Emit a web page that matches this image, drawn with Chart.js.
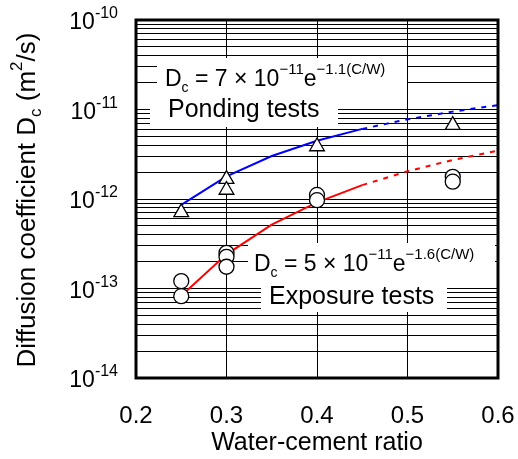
<!DOCTYPE html>
<html>
<head>
<meta charset="utf-8">
<script src="https://cdn.jsdelivr.net/npm/chart.js@4/dist/chart.umd.min.js"></script>
<style>body{margin:0;background:#fff}</style>
</head>
<body>
<canvas id="grafico" width="518" height="459"></canvas>
<script>
// valori
var xTicks = [0.2, 0.3, 0.4, 0.5, 0.6];
var yExps = [-14, -13, -12, -11, -10];

// ponding tests (triangoli)
var pondingX = [0.25, 0.3, 0.3, 0.4, 0.55];
var pondingY = [7.1e-13, 1.67e-12, 1.26e-12, 3.86e-12, 6.7e-12];

// exposure tests (cerchi)
var exposureX = [0.25, 0.25, 0.3, 0.3, 0.3, 0.4, 0.4, 0.55, 0.55];
var exposureY = [1.21e-13, 8.2e-14, 2.5e-13, 2.26e-13, 1.75e-13, 1.11e-12, 9.7e-13, 1.77e-12, 1.56e-12];

// curve (tratto continuo + prolungamento tratteggiato)
var curveX = [0.25, 0.3, 0.35, 0.4, 0.45];
var pondingCurve = [8.6e-13, 1.79e-12, 3.02e-12, 4.47e-12, 6.07e-12];
var exposureCurve = [8.3e-14, 2.41e-13, 5.17e-13, 9.16e-13, 1.43e-12];
var extX = [0.45, 0.5, 0.55, 0.6];
var pondingExt = [6.07e-12, 7.76e-12, 9.47e-12, 1.12e-11];
var exposureExt = [1.43e-12, 2.04e-12, 2.73e-12, 3.47e-12];

var FONT = 'Arial, "Liberation Sans", sans-serif';

function punti(xs, ys) {
    return xs.map(function (x, i) { return {x: x, y: ys[i]}; });
}

// scrive pezzi di testo con apici / pedici
function larghezza(ctx, runs) {
    var w = 0;
    runs.forEach(function (r) { ctx.font = r[1] + 'px ' + FONT; w += ctx.measureText(r[0]).width; });
    return w;
}
function scrivi(ctx, x, y, runs) {
    runs.forEach(function (r) {
        ctx.font = r[1] + 'px ' + FONT;
        ctx.fillText(r[0], x, y + r[2]);
        x += ctx.measureText(r[0]).width;
    });
}

var riquadri = {
    id: 'riquadri',
    beforeDatasetsDraw: function (chart) {
        var ctx = chart.ctx;
        ctx.save();
        ctx.fillStyle = '#fff';
        ctx.fillRect(157, 58, 250, 39);
        ctx.fillRect(150, 97, 188, 30);
        ctx.fillRect(248, 243, 247, 38);
        ctx.fillRect(261, 281, 186, 31);
        ctx.fillStyle = '#000';
        ctx.textAlign = 'left';
        ctx.textBaseline = 'alphabetic';
        scrivi(ctx, 165, 86, [['D', 23, 0], ['c', 14, 6], [' = 7 \u00d7 10', 23, 0], ['\u221211', 15, -12], ['e', 23, 0], ['\u22121.1(C/W)', 15, -12]]);
        scrivi(ctx, 168, 117, [['Ponding tests', 25, 0]]);
        scrivi(ctx, 254, 271, [['D', 23, 0], ['c', 14, 6], [' = 5 \u00d7 10', 23, 0], ['\u221211', 15, -12], ['e', 23, 0], ['\u22121.6(C/W)', 15, -12]]);
        scrivi(ctx, 269, 304, [['Exposure tests', 25, 0]]);
        ctx.restore();
    },
    afterDraw: function (chart) {
        var ctx = chart.ctx, a = chart.chartArea;
        var xs = chart.scales.x, ys = chart.scales.y;
        ctx.save();
        ctx.strokeStyle = '#000';
        ctx.lineWidth = 3;
        ctx.strokeRect(a.left, a.top, a.right - a.left, a.bottom - a.top);
        ctx.fillStyle = '#000';
        ctx.textBaseline = 'alphabetic';
        // etichette asse x
        ctx.textAlign = 'center';
        ctx.font = '24px ' + FONT;
        xTicks.forEach(function (v) {
            ctx.fillText(v.toFixed(1), xs.getPixelForValue(v), 423);
        });
        ctx.font = '25px ' + FONT;
        ctx.fillText('Water-cement ratio', (a.left + a.right) / 2, 450);
        // etichette asse y
        ctx.textAlign = 'left';
        yExps.forEach(function (e) {
            var py = ys.getPixelForValue(Math.pow(10, e));
            var runs = [['10', 23, 9], ['-' + Math.abs(e), 16, -2]];
            scrivi(ctx, 118 - larghezza(ctx, runs), py, runs);
        });
        // titolo asse y
        ctx.translate(35, 200);
        ctx.rotate(-Math.PI / 2);
        var t = [['Diffusion coefficient D', 26, 0], ['c', 17, 6], [' (m', 26, 0], ['2', 17, -13], ['/s)', 26, 0]];
        scrivi(ctx, -larghezza(ctx, t) / 2, 0, t);
        ctx.restore();
    }
};

var ctx = document.getElementById('grafico').getContext('2d');
var chart = new Chart(ctx, {
    type: 'scatter',
    data: {
        datasets: [
            {data: punti(curveX, pondingCurve), showLine: true, borderColor: '#0000ff', borderWidth: 2, pointRadius: 0, order: 2},
            {data: punti(extX, pondingExt), showLine: true, borderColor: '#0000ff', borderWidth: 2, borderDash: [5, 6], pointRadius: 0, order: 2},
            {data: punti(curveX, exposureCurve), showLine: true, borderColor: '#ff0000', borderWidth: 2, pointRadius: 0, order: 2},
            {data: punti(extX, exposureExt), showLine: true, borderColor: '#ff0000', borderWidth: 2, borderDash: [5, 6], pointRadius: 0, order: 2},
            {data: punti(pondingX, pondingY), pointStyle: 'triangle', pointRadius: 8.5, backgroundColor: '#fff', borderColor: '#000', borderWidth: 1.3, order: 1},
            {data: punti(exposureX, exposureY), pointStyle: 'circle', pointRadius: 7.5, backgroundColor: '#fff', borderColor: '#000', borderWidth: 1.3, order: 1}
        ]
    },
    options: {
        responsive: false,
        animation: false,
        layout: {padding: {left: 136, top: 20, right: 20, bottom: 81}},
        plugins: {legend: {display: false}, tooltip: {enabled: false}},
        scales: {
            x: {
                type: 'linear', min: 0.2, max: 0.6,
                ticks: {display: false, stepSize: 0.1},
                grid: {color: '#000', lineWidth: 1, drawTicks: false},
                border: {display: false}
            },
            y: {
                type: 'logarithmic', min: 1e-14, max: 1e-10,
                afterBuildTicks: function (scale) {
                    var t = [];
                    yExps.forEach(function (e) {
                        for (var k = 1; k <= 9; k++) {
                            if (e === -10 && k > 1) break;
                            t.push({value: k * Math.pow(10, e)});
                        }
                    });
                    scale.ticks = t;
                },
                ticks: {display: false},
                grid: {color: '#000', lineWidth: 1, drawTicks: false},
                border: {display: false}
            }
        }
    },
    plugins: [riquadri]
});
</script>
</body>
</html>
